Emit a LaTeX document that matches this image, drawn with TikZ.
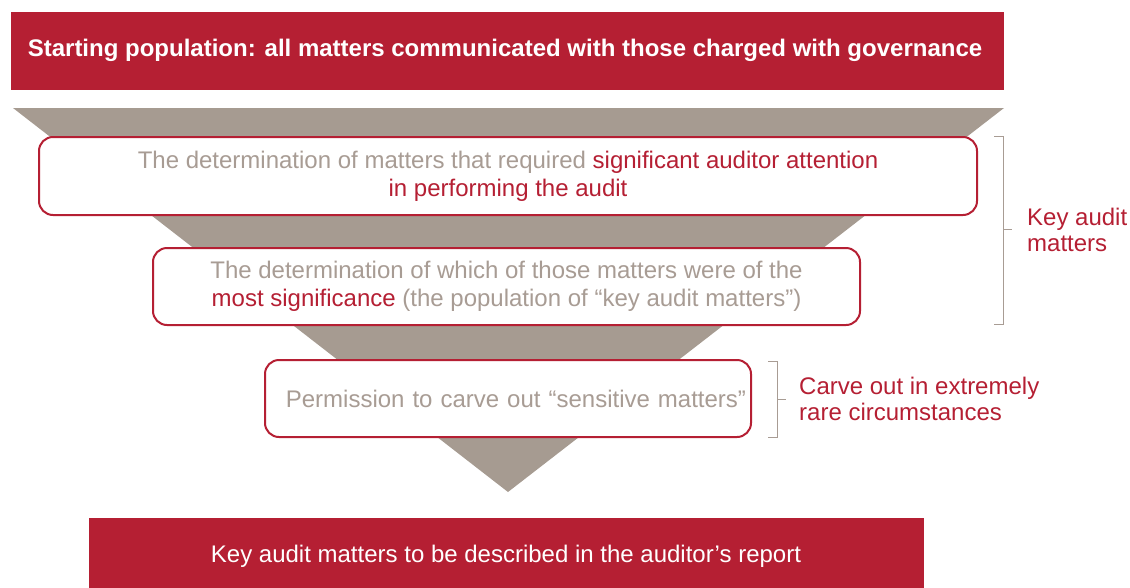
\documentclass[tikz,border=0pt]{standalone}
\usepackage{fontspec}
\setmainfont{Liberation Sans}
\definecolor{kred}{HTML}{B51F33}
\definecolor{kgray}{HTML}{A69B91}
\definecolor{tgray}{HTML}{A89C94}
\begin{document}
\begin{tikzpicture}[x=1pt,y=-1pt,
  bar/.style={fill=kred,text=white,inner sep=0pt,anchor=north west},
  stepbox/.style={draw=kred,line width=2pt,fill=white,rounded corners=14pt,inner sep=0pt,align=center,text=tgray,font=\fontsize{24}{28}\selectfont},
  brk/.style={draw=tgray,line width=1pt},
  side/.style={text=kred,align=left,anchor=west,font=\fontsize{24}{26}\selectfont,inner sep=0pt}]
\useasboundingbox (0,0) rectangle (1130,587);
% funnel
\fill[kgray] (13,108) -- (1004,108) -- (508,492) -- cycle;
% top bar
\node[bar,minimum width=993pt,minimum height=78pt] (top) at (11,12) {};
\node[text=white,font=\bfseries\fontsize{24}{28}\selectfont] (toptext) at (505,50) {Starting population: all matters communicated with those charged with governance};
% boxes
\node[stepbox,minimum width=938pt,minimum height=78pt] (b1) at (508,176)
  {The determination of matters that required \textcolor{kred}{significant auditor attention}\\\textcolor{kred}{in performing the audit}};
\node[stepbox,minimum width=707pt,minimum height=77pt] (b2) at (506.5,286.5)
  {The determination of which of those matters were of the\\\textcolor{kred}{most significance} (the population of “key audit matters”)};
\node[stepbox,minimum width=486pt,minimum height=77pt,text width=476pt,align=right] (b3) at (508,398.5)
  {Permission to carve out “sensitive matters”};
% bottom bar
\node[bar,minimum width=835pt,minimum height=70pt] (bot) at (89,518) {};
\node[text=white,font=\fontsize{24}{28}\selectfont] (bottext) at (506,556) {Key audit matters to be described in the auditor’s report};
% brackets
\draw[brk] (994,136) -- (1003,136) -- (1003,324) -- (994,324);
\draw[brk] (1003,229) -- (1012,229);
\node[side] (kam) at (1027,230) {Key audit\\matters};
\draw[brk] (768,361) -- (777,361) -- (777,437) -- (768,437);
\draw[brk] (777,399) -- (786,399);
\node[side] (carve) at (799,399) {Carve out in extremely\\rare circumstances};
\end{tikzpicture}
\end{document}
